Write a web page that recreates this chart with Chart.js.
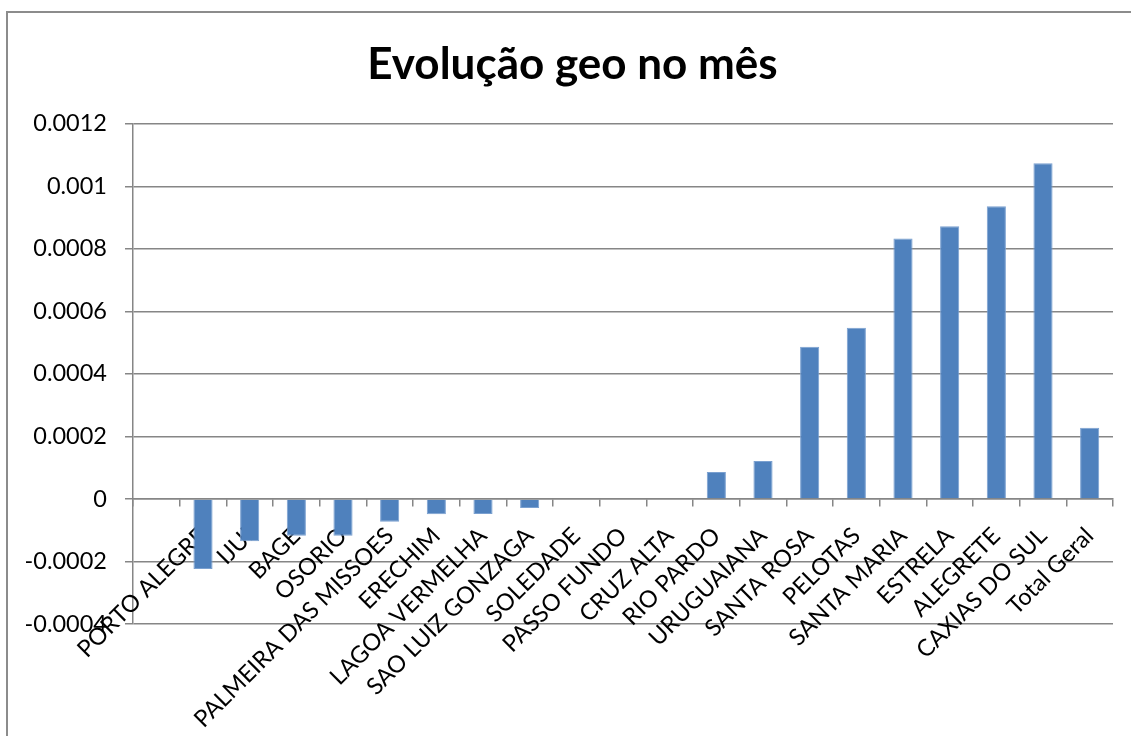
<!DOCTYPE html>
<html>
<head>
<meta charset="utf-8">
<script src="https://cdn.jsdelivr.net/npm/chart.js@4"></script>
<style>
html, body { margin: 0; padding: 0; background: #fff; }
#wrap { position: relative; width: 1131px; height: 736px; overflow: hidden; }
#frame { position: absolute; left: 6px; top: 11px; width: 1200px; height: 800px;
  border-top: 2px solid #8c8c8c; border-left: 2px solid #8c8c8c; }
canvas { position: absolute; left: 0; top: 0; }
</style>
</head>
<body>
<div id="wrap">
  <div id="frame"></div>
  <canvas id="chart" width="1131" height="736"></canvas>
</div>
<script>
// DATA
const titleText = "Evolução geo no mês";
const cities = ["", "PORTO ALEGRE", "IJUI", "BAGE", "OSORIO", "PALMEIRA DAS MISSOES",
  "ERECHIM", "LAGOA VERMELHA", "SAO LUIZ GONZAGA", "SOLEDADE", "PASSO FUNDO",
  "CRUZ ALTA", "RIO PARDO", "URUGUAIANA", "SANTA ROSA", "PELOTAS", "SANTA MARIA",
  "ESTRELA", "ALEGRETE", "CAXIAS DO SUL", "Total Geral"];
const evolucao = [null, -0.000224, -0.000135, -0.000118, -0.000118, -0.000073,
  -0.000049, -0.000048, -0.000029, 0, 0,
  0, 0.0000865, 0.000121, 0.000487, 0.000548, 0.000833,
  0.000872, 0.000936, 0.001074, 0.000228];
const yTicks = [-0.0004, -0.0002, 0, 0.0002, 0.0004, 0.0006, 0.0008, 0.001, 0.0012];

const gridGray = "#868686";
const font = "Lato, 'Open Sans', sans-serif";

// nudge the title a little to the right, like the excel original
const titleShift = {
  id: "titleShift",
  afterLayout(chart) {
    if (chart.titleBlock) chart.titleBlock.left += 32;
  }
};

// CHART
const ctx = document.getElementById("chart").getContext("2d");
new Chart(ctx, {
  type: "bar",
  data: {
    labels: cities,
    datasets: [{
      data: evolucao,
      backgroundColor: "#4F81BD",
      borderColor: "#7aa0d0",
      borderWidth: 1,
      categoryPercentage: 1,
      barPercentage: 0.41
    }]
  },
  plugins: [titleShift],
  options: {
    responsive: false,
    animation: false,
    layout: { padding: { left: 0, right: 18, top: 0, bottom: 112 } },
    plugins: {
      legend: { display: false },
      tooltip: { enabled: false },
      title: {
        display: true,
        text: titleText,
        color: "#000",
        font: { family: font, size: 44, weight: "bold", lineHeight: 1.2 },
        padding: { top: 38, bottom: 33 }
      }
    },
    scales: {
      y: {
        min: yTicks[0],
        max: yTicks[yTicks.length - 1],
        afterFit: (scale) => { scale.width = 133; },
        afterBuildTicks: (scale) => { scale.ticks = yTicks.map(v => ({ value: v })); },
        ticks: {
          color: "#000",
          padding: 18,
          font: { family: font, size: 23.5 },
          callback: (v) => String(v)
        },
        grid: { color: gridGray, lineWidth: 1.5, tickLength: 8 },
        border: { color: gridGray, width: 1.5 }
      },
      x: {
        position: { y: 0 },
        z: 1,
        offset: true,
        ticks: {
          color: "#000",
          padding: 16,
          autoSkip: false,
          minRotation: 45,
          maxRotation: 45,
          font: { family: font, size: 23.5 }
        },
        grid: { drawOnChartArea: false, drawTicks: true, tickLength: 7, color: gridGray, lineWidth: 1.5 },
        border: { color: gridGray, width: 1.5 }
      }
    }
  }
});
</script>
</body>
</html>
